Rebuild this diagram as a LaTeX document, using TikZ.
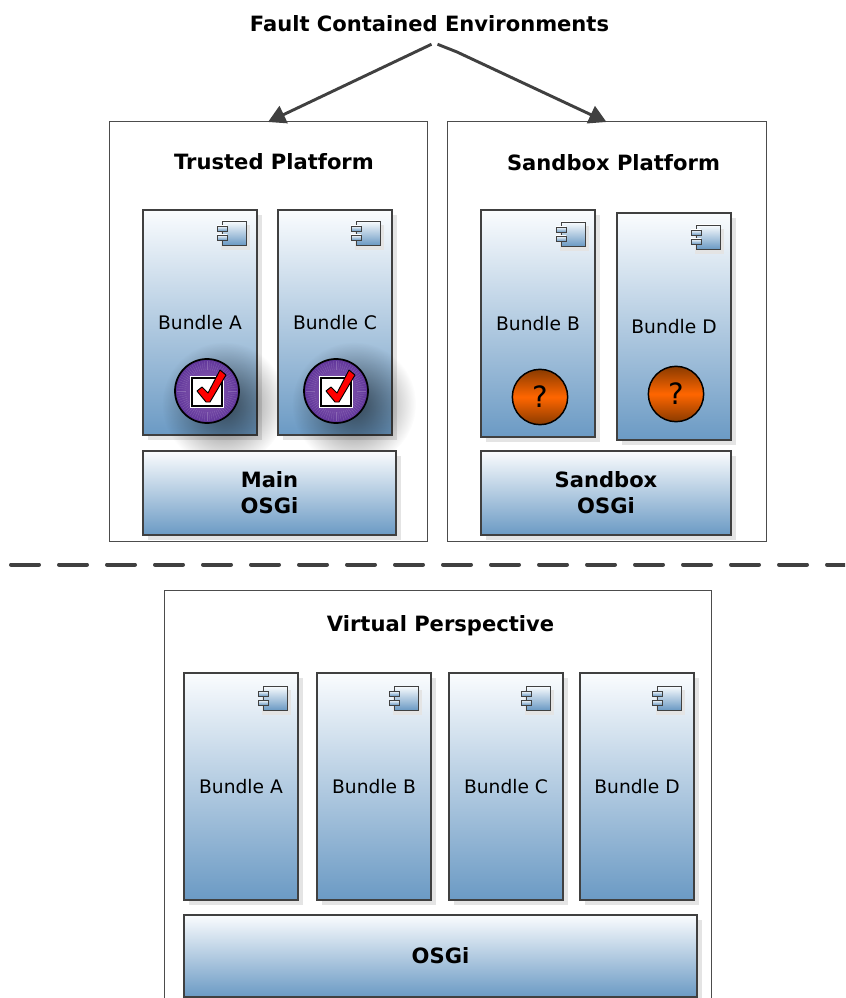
\documentclass[tikz,border=0pt]{standalone}
\usepackage{fontspec}
\setmainfont{DejaVu Sans}
\usetikzlibrary{arrows.meta}
\usetikzlibrary{shadows}
\usetikzlibrary{fadings}
\definecolor{linecol}{HTML}{404040}
\definecolor{boxcol}{HTML}{6B9AC4}
\definecolor{toolcol}{HTML}{FAFCFE}
\definecolor{shadecol}{HTML}{E4E4E4}
\definecolor{badgein}{HTML}{8E63B4}
\definecolor{badgeout}{HTML}{60359A}
\definecolor{unknownmid}{HTML}{FF6600}
\definecolor{unknownend}{HTML}{8A3B00}
\tikzfading[name=softglow,inner color=transparent!42,outer color=transparent!100]
\tikzset{>=Triangle}
\tikzset{boxsize/.style 2 args = {minimum width=#1*0.75pt,minimum height=#2*0.75pt}}
\tikzset{platform/.style = {shape=rectangle,draw=black!70,line width=0.75pt,inner sep=0pt,outer sep=0pt,fill=white}}
\tikzset{bundle/.style = {shape=rectangle,draw=linecol,line width=0.8pt,inner sep=0pt,outer sep=0pt,
    top color=toolcol,bottom color=boxcol,align=center,font=\fontsize{14pt}{17pt}\selectfont,
    drop shadow={shadow xshift=3.75pt,shadow yshift=-3.75pt,fill=shadecol,opacity=1}}}
\tikzset{osgi/.style = {bundle,font=\fontsize{15.8pt}{19.5pt}\selectfont\bfseries}}
\tikzset{heading/.style = {inner sep=0pt,font=\fontsize{15.8pt}{19.5pt}\selectfont\bfseries}}
\tikzset{unknown/.style = {shape=circle,draw=black,line width=1.1pt,minimum size=41.5pt,inner sep=0pt,
    top color=unknownend,bottom color=unknownend,middle color=unknownmid,
    font=\fontsize{22pt}{22pt}\selectfont}}
\tikzset{arrowline/.style = {draw=linecol,line width=2.2pt,-{Triangle[length=13pt,width=14pt]}}}
\tikzset{iconbox/.style = {draw=linecol,line width=0.6pt,top color=toolcol,bottom color=boxcol}}
\tikzset{icon/.pic = {
    \fill[shadecol] (4,4) rectangle (-25,29);
    \path[iconbox] (0,0) rectangle (-24,24);
    \path[iconbox] (-29,5) rectangle (-19,10);
    \path[iconbox] (-29,14) rectangle (-19,19);
}}
\tikzset{checked/.pic = {
    \shade[inner color=badgein,outer color=badgeout] (0,0) circle (32);
    \foreach \a in {0,5,...,355}
        \draw[white,line width=0.2pt,opacity=0.2] (\a:21) -- (\a:30);
    \draw[black,line width=1.3pt] (0,0) circle (32);
    \draw[black,fill=white,line width=0.8pt] (-15,-13) rectangle (15,15);
    \draw[white,line width=0.8pt] (-16.2,-14.2) rectangle (16.2,16.2);
    \draw[black,fill=red,line width=0.7pt,line join=round] (-10,0) -- (-5,-4) -- (1,2) -- (13,-21) -- (19,-16)
        -- (3,11) -- (-1,11) -- cycle;
}}

\begin{document}
\begin{tikzpicture}[x=0.75pt,y=-0.75pt]
    \useasboundingbox (0,0) rectangle (845,998);
    \clip (0,0) rectangle (845,998);

    \node[heading,minimum height=30pt] (title) at (429.5,24) {Fault Contained Environments};

    \node[platform,boxsize={318}{419}] (trusted) at (268,331.5) {};
    \node[platform,boxsize={319}{419}] (sandbox) at (606.5,331.5) {};
    \node[heading] (trustedtitle) at (274,162) {Trusted Platform};
    \node[heading] (sandboxtitle) at (613.5,163) {Sandbox Platform};

    \coordinate (bend) at (457,52);
    \draw[arrowline] ([xshift=1.5pt]title.south) -- (trusted.north);
    \draw[arrowline] ([xshift=6pt]title.south) -- (bend) -- (sandbox.north);

    \node[bundle,boxsize={114}{225}] (bundleA) at (200,322.5) {Bundle A};
    \fill[black,path fading=softglow] (224,404) circle (62);
    \node[bundle,boxsize={114}{225}] (bundleC) at (335,322.5) {Bundle C};
    \fill[black,path fading=softglow] (354,404) circle (62);
    \node[bundle,boxsize={114}{227}] (bundleB) at (538,323.5) {Bundle B};
    \node[bundle,boxsize={114}{227}] (bundleD) at (674,326.5) {Bundle D};

    \pic at (246,221) {icon};
    \pic at (380,221) {icon};
    \pic at (585,222) {icon};
    \pic at (720,225) {icon};

    \pic at (207,391) {checked};
    \pic at (336,391) {checked};
    \node[unknown] (unknownB) at (540,397) {?};
    \node[unknown] (unknownD) at (676,394) {?};

    \node[osgi,boxsize={253}{84}] (mainosgi) at (269.5,493) {Main\\OSGi};
    \node[osgi,boxsize={250}{84}] (sandboxosgi) at (606,493) {Sandbox\\OSGi};

    \coordinate (dashA) at (11,564.5);
    \coordinate (dashB) at (860,564.5);
    \draw[draw=linecol,line width=3pt,line cap=round,dash pattern=on 21pt off 15pt] (dashA) -- (dashB);

    \node[platform,boxsize={547}{480}] (virtual) at (437.5,830) {};
    \node[heading] (virtualtitle) at (440.5,626) {Virtual Perspective};

    \node[bundle,boxsize={114}{227}] (vbundleA) at (241,786.5) {Bundle A};
    \node[bundle,boxsize={114}{227}] (vbundleB) at (374,786.5) {Bundle B};
    \node[bundle,boxsize={114}{227}] (vbundleC) at (506,786.5) {Bundle C};
    \node[bundle,boxsize={114}{227}] (vbundleD) at (637,786.5) {Bundle D};

    \pic at (287,686) {icon};
    \pic at (418,686) {icon};
    \pic at (550,686) {icon};
    \pic at (681,686) {icon};

    \node[osgi,boxsize={513}{82}] (osgi) at (440.5,956) {OSGi};
\end{tikzpicture}
\end{document}
